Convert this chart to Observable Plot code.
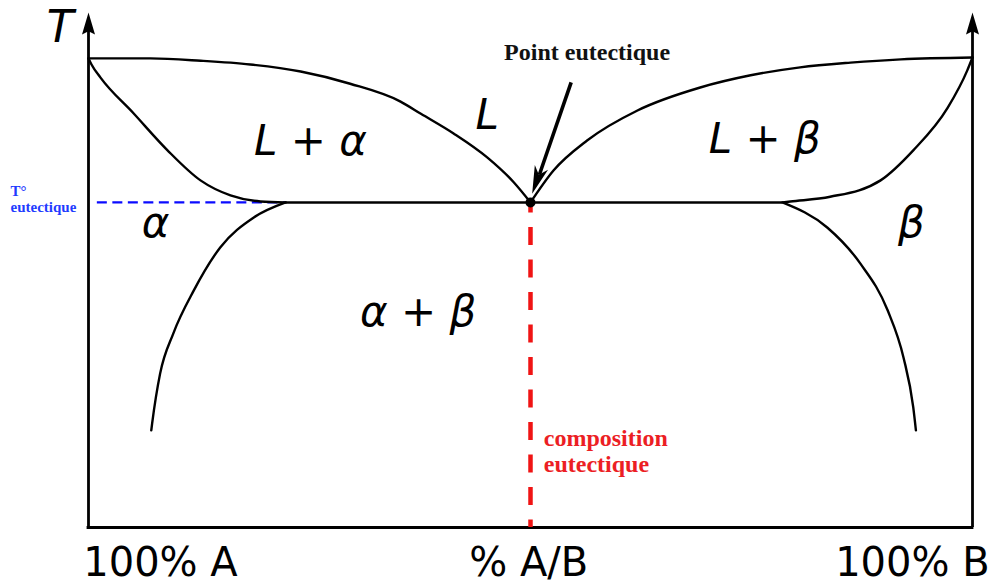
<!DOCTYPE html>
<html><head><meta charset="utf-8">
<script src="https://cdn.jsdelivr.net/npm/d3@7"></script>
<script src="https://cdn.jsdelivr.net/npm/@observablehq/plot@0.6"></script>
<style>html,body{margin:0;padding:0;background:#fff;} svg{display:block}</style>
</head><body><div id="chart"></div>
<script>
// Composition (% B) and temperature (arbitrary units, T_A = 100)
const eutecticX = 50, eutecticT = 69.3;
const axisTop = 109.8;

const liquidusA_x = [0, 7, 12.7, 18.3, 24, 29.6, 35.3, 37.6, 41.3, 45.1, 48.1, 50];
const liquidusA_T = [100, 100, 99.5, 98.7, 97.2, 94.6, 90.8, 88.2, 84, 78.9, 73.6, 69.3];

const liquidusB_x = [50, 52.6, 56.4, 62.1, 69.2, 74.9, 80.5, 86.2, 91.9, 100];
const liquidusB_T = [69.3, 76.1, 82.5, 88.9, 93.8, 96.4, 98.1, 99.1, 99.8, 100.2];

const solidusA_x = [0, 0.34, 1.36, 5.09, 8.94, 12.67, 16.06, 19.46, 22.3];
const solidusA_T = [100, 98.7, 95.9, 88.3, 80.4, 74.0, 70.8, 69.5, 69.3];

const solidusB_x = [78.5, 79.4, 83.9, 89.6, 93.3, 97.2, 99.4, 100];
const solidusB_T = [69.3, 69.5, 70.5, 74.0, 80.4, 89.5, 97.4, 100.2];

const solvusA_x = [7.1, 7.2, 8.1, 9.6, 11.9, 14.9, 18.7, 22.3];
const solvusA_T = [20.7, 22.2, 32.8, 41.4, 50.5, 59.7, 66.1, 69.3];

const solvusB_x = [78.5, 83.6, 87.3, 90.4, 92.2, 93.3, 93.6];
const solvusB_T = [69.3, 63.9, 56.3, 46.3, 36.2, 25.6, 20.7];

const regionLabels = ["L + α", "L", "L + β", "α", "β", "α + β"];
const regionX = [25.1, 45.1, 76.5, 7.6, 93.1, 37.3];
const regionT = [82.2, 87.9, 82.8, 64.7, 64.7, 45.9];

const bottomLabels = ["100% A", "% A/B", "100% B"];
const bottomX = [8.14, 49.8, 93.2];
const bottomT = -7.7;

const arrowTail = {x: 54.6, T: 94.9};
const arrowTip = {x: 50.19, T: 71.14};

const toPts = (xs, ts, id) => xs.map((x, i) => ({x, T: ts[i], id}));
const curves = [
  ...toPts(liquidusA_x, liquidusA_T, "liqA"),
  ...toPts(liquidusB_x, liquidusB_T, "liqB"),
  ...toPts(solidusA_x, solidusA_T, "solA"),
  ...toPts(solidusB_x, solidusB_T, "solB"),
  ...toPts(solvusA_x, solvusA_T, "svA"),
  ...toPts(solvusB_x, solvusB_T, "svB")
];
const regions = regionLabels.map((t, i) => ({t, x: regionX[i], T: regionT[i]}));
const bottoms = bottomLabels.map((t, i) => ({t, x: bottomX[i], T: bottomT}));

const head = (len, half, notch) => ({
  draw(ctx) {
    ctx.moveTo(0, 0); ctx.lineTo(half, len); ctx.lineTo(0, len * notch); ctx.lineTo(-half, len); ctx.closePath();
  }
});

const chart = Plot.plot({
  width: 993, height: 584,
  marginLeft: 88, marginRight: 21, marginTop: 11, marginBottom: 57,
  x: {domain: [0, 100], axis: null},
  y: {domain: [0, 110], axis: null},
  style: {background: "#fff", overflow: "visible"},
  marks: [
    // axes
    Plot.ruleX([0, 100], {y1: 0, y2: axisTop - 3, stroke: "black", strokeWidth: 2.8}),
    Plot.ruleY([0], {x1: 0, x2: 100, stroke: "black", strokeWidth: 2.8, strokeLinecap: "square"}),
    Plot.dot([{x: 0}, {x: 100}], {x: "x", y: () => axisTop, symbol: head(22, 6.5, 0.85), fill: "black", stroke: "none", r: 5}),
    // blue eutectic temperature
    Plot.ruleY([eutecticT], {x1: 1, x2: 22.3, stroke: "#0b0bff", strokeWidth: 2.4, strokeDasharray: "10,5.5"}),
    // eutectic horizontal
    Plot.ruleY([eutecticT], {x1: 22.3, x2: 78.5, stroke: "black", strokeWidth: 2.5}),
    // curves
    Plot.line(curves, {x: "x", y: "T", z: "id", curve: "monotone-x", stroke: "black", strokeWidth: 2.4}),
    // red composition line
    Plot.ruleX([eutecticX], {y1: eutecticT, y2: 0, stroke: "#f01414", strokeWidth: 4.5, strokeDasharray: "18,14.5", strokeDashoffset: 7.5}),
    Plot.dot([{x: eutecticX, T: eutecticT}], {x: "x", y: "T", r: 5, fill: "black", stroke: "none"}),
    // pointer arrow
    Plot.link([0], {x1: () => arrowTail.x, y1: () => arrowTail.T, x2: () => 51.0, y2: () => 75.2, stroke: "black", strokeWidth: 3.6}),
    Plot.dot([arrowTip], {x: "x", y: "T", symbol: head(28, 7, 0.72), rotate: 199.3, fill: "black", stroke: "none", r: 5}),
    // region labels
    Plot.text(regions, {x: "x", y: "T", text: "t", fontSize: 42, fontStyle: "italic", fontFamily: "DejaVu Sans", fill: "black"}),
    // T axis label
    Plot.text(["T"], {x: () => -3.2, y: () => 106.4, text: d => d, fontSize: 44, fontStyle: "italic", fontFamily: "DejaVu Sans", fill: "black"}),
    // bottom labels
    Plot.text(bottoms, {x: "x", y: "T", text: "t", fontSize: 40, fontFamily: "DejaVu Sans", fill: "black"}),
    // annotations
    Plot.text(["Point eutectique"], {x: () => 56.4, y: () => 101.3, text: d => d, fontSize: 24, fontWeight: "bold", fontFamily: "Liberation Serif", fill: "#111"}),
    Plot.text(["T°", "eutectique"], {x: () => -8.82, y: (d, i) => [71.8, 68.2][i], text: d => d, textAnchor: "start", fontSize: 15, fontWeight: "bold", fontFamily: "Liberation Serif", fill: "#1f3cff"}),
    Plot.text(["composition", "eutectique"], {x: () => 51.5, y: (d, i) => [19.1, 13.4][i], text: d => d, textAnchor: "start", fontSize: 24, fontWeight: "bold", fontFamily: "Liberation Serif", fill: "#ec1e24"})
  ]
});
document.getElementById("chart").appendChild(chart);
</script>
</body></html>
